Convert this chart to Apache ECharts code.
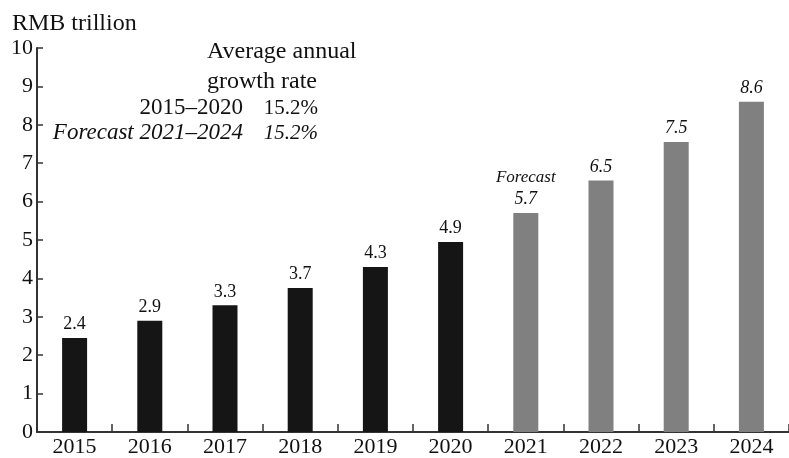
<!DOCTYPE html>
<html>
<head>
<meta charset="utf-8">
<script src="https://cdn.jsdelivr.net/npm/echarts@6/dist/echarts.min.js"></script>
<style>
  html, body { margin: 0; padding: 0; background: #fff; }
  #main { width: 789px; height: 458px; }
</style>
</head>
<body>
<div id="main"></div>
<script>
const years = ['2015', '2016', '2017', '2018', '2019', '2020', '2021', '2022', '2023', '2024'];
const values = [2.45, 2.9, 3.3, 3.75, 4.3, 4.95, 5.7, 6.55, 7.55, 8.6];
const valueLabels = ['2.4', '2.9', '3.3', '3.7', '4.3', '4.9', '5.7', '6.5', '7.5', '8.6'];
const forecastFrom = 6; // index of 2021

const serif = '"Liberation Serif", "DejaVu Serif", serif';
const chart = echarts.init(document.getElementById('main'));

const barData = values.map(function (v, i) {
  const isForecast = i >= forecastFrom;
  let fmt = valueLabels[i];
  if (i === forecastFrom) fmt = '{f|Forecast}\n' + valueLabels[i];
  return {
    value: v,
    itemStyle: { color: isForecast ? '#808080' : '#151515' },
    label: {
      formatter: fmt,
      fontStyle: isForecast ? 'italic' : 'normal'
    }
  };
});

const option = {
  animation: false,
  grid: { left: 37, top: 48, width: 760, height: 385 },
  xAxis: {
    type: 'category',
    data: years,
    axisLine: { lineStyle: { color: '#333', width: 2 } },
    axisTick: { show: true, inside: true, length: 8, alignWithLabel: false, interval: 0, lineStyle: { color: '#333', width: 1.5 } },
    axisLabel: { color: '#111', fontFamily: serif, fontSize: 22, margin: 4 }
  },
  yAxis: {
    type: 'value',
    min: 0,
    max: 10,
    interval: 1,
    splitLine: { show: false },
    axisLine: { show: true, lineStyle: { color: '#333', width: 2 } },
    axisTick: { show: true, inside: true, length: 6, lineStyle: { color: '#333', width: 1.5 } },
    axisLabel: { color: '#111', fontFamily: serif, fontSize: 22, margin: 4 }
  },
  series: [{
    type: 'bar',
    barWidth: 25,
    data: barData,
    label: {
      show: true,
      position: 'top',
      distance: 3,
      color: '#111',
      fontFamily: serif,
      fontSize: 18,
      lineHeight: 21,
      rich: {
        f: { fontFamily: serif, fontStyle: 'italic', fontSize: 17, color: '#111', lineHeight: 24 }
      }
    }
  }],
  graphic: [
    { type: 'text', x: 12, y: 24, style: { text: 'RMB trillion', font: '24px ' + serif, fill: '#111', textVerticalAlign: 'middle' } },
    { type: 'text', x: 207, y: 52, style: { text: 'Average annual', font: '24px ' + serif, fill: '#111', textVerticalAlign: 'middle' } },
    { type: 'text', x: 207, y: 82, style: { text: 'growth rate', font: '24px ' + serif, fill: '#111', textVerticalAlign: 'middle' } },
    { type: 'text', x: 243, y: 108, style: { text: '2015–2020', font: '23px ' + serif, fill: '#111', textAlign: 'right', textVerticalAlign: 'middle' } },
    { type: 'text', x: 318, y: 108, style: { text: '15.2%', font: '21px ' + serif, fill: '#111', textAlign: 'right', textVerticalAlign: 'middle' } },
    { type: 'text', x: 243, y: 133, style: { text: 'Forecast 2021–2024', font: 'italic 23px ' + serif, fill: '#111', textAlign: 'right', textVerticalAlign: 'middle' } },
    { type: 'text', x: 318, y: 133, style: { text: '15.2%', font: 'italic 21px ' + serif, fill: '#111', textAlign: 'right', textVerticalAlign: 'middle' } }
  ]
};

chart.setOption(option);
</script>
</body>
</html>
